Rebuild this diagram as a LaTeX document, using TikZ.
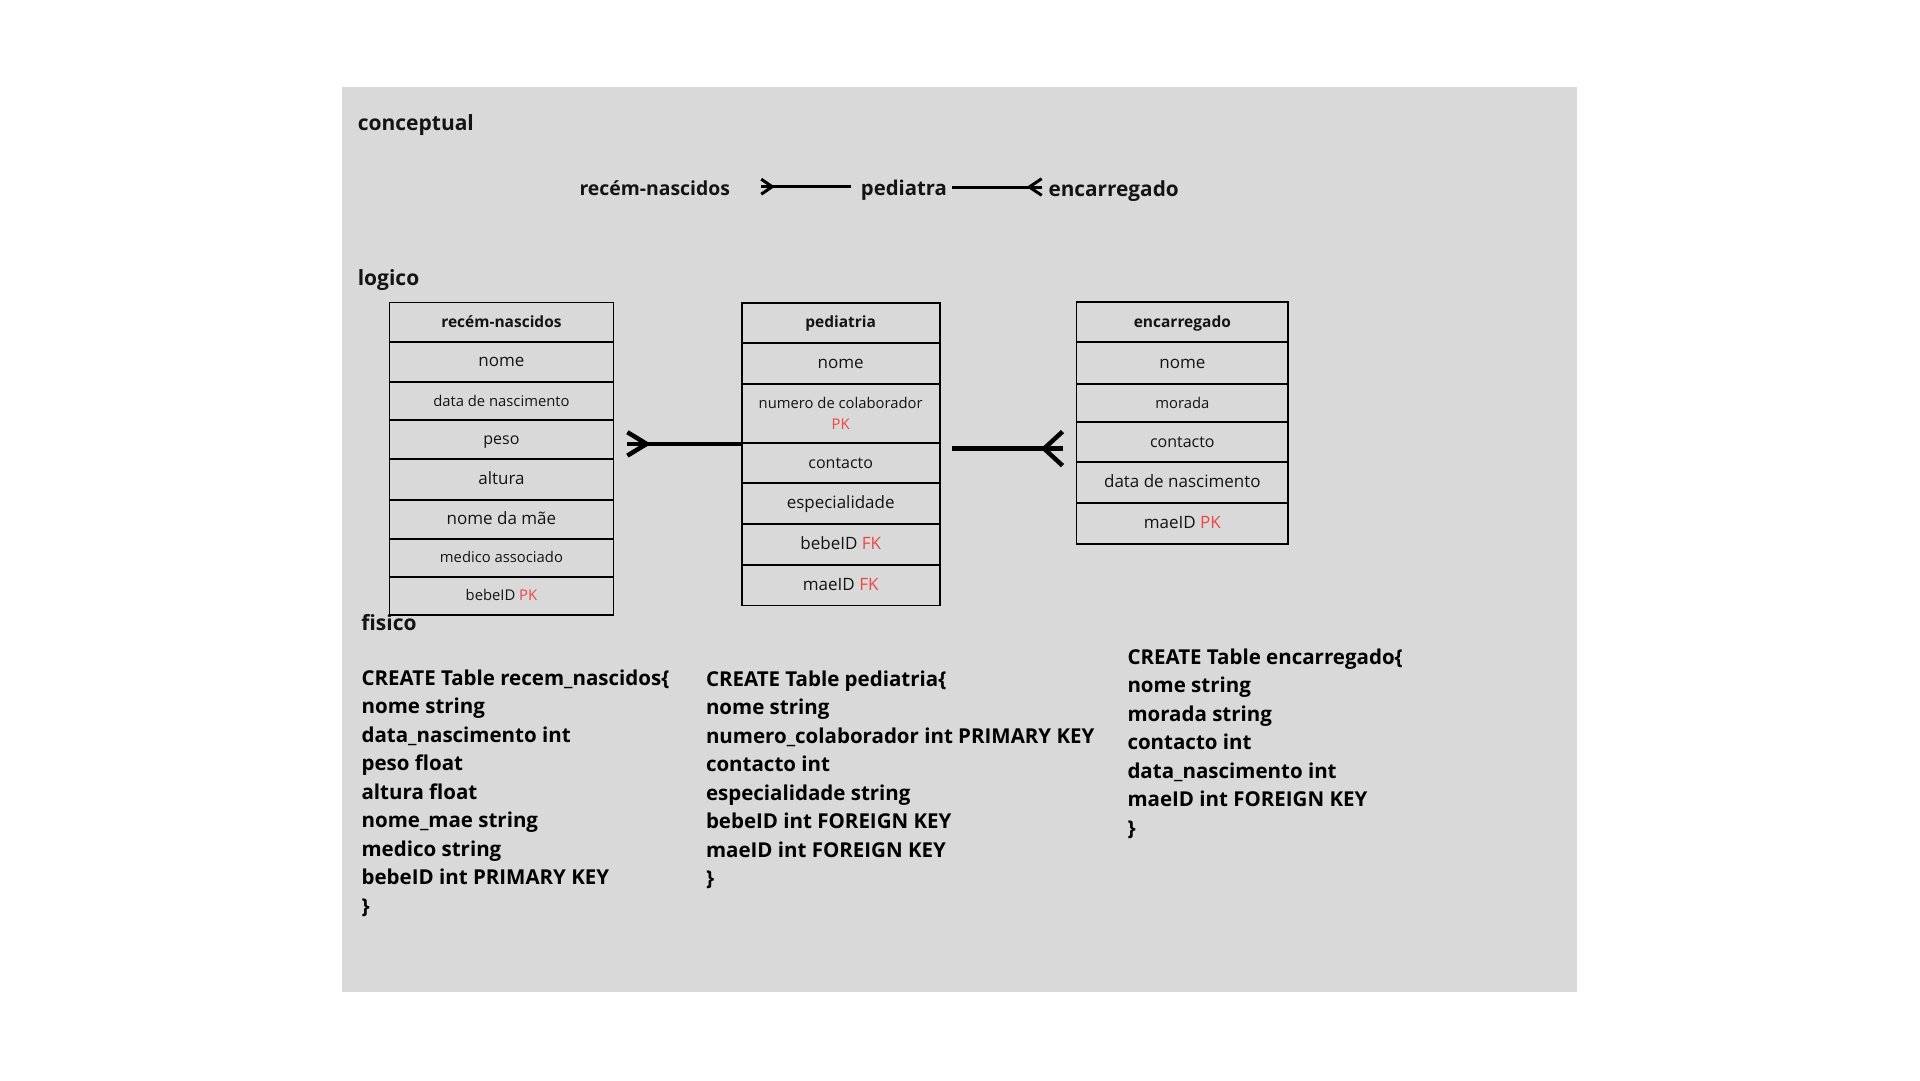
\documentclass[tikz,border=0pt]{standalone}
\usepackage{fontspec}
\setmainfont{Open Sans}
\usetikzlibrary{calc,positioning}
\definecolor{panelFill}{HTML}{D9D9D9}
\definecolor{keyRed}{HTML}{F04545}
\colorlet{inkColor}{black!92}
\newcommand{\KeyPK}{\textcolor{keyRed}{PK}}
\newcommand{\KeyFK}{\textcolor{keyRed}{FK}}
\newcommand{\XRecem}{389.4}
\newcommand{\XRecemR}{613.5}
\newcommand{\XPed}{741.6}
\newcommand{\XPedR}{939.8}
\newcommand{\XEnc}{1076.4}
\newcommand{\XEncR}{1288.3}
\newcommand{\CodeSkip}{28.5}
\newcommand{\PlaceRow}[7]{%
  % #1=name  #2=style  #3=x left  #4=x right  #5=y top  #6=y bottom  #7=text
  \pgfmathsetmacro{\rw}{#4-#3}%
  \pgfmathsetmacro{\rh}{#6-#5}%
  \node[#2, minimum width=\rw pt, minimum height=\rh pt]
    (#1) at ({(#3+#4)/2},{(#5+#6)/2}) {#7};%
}
\newcommand{\CrowFoot}[4]{%
  % #1=style  #2=open end  #3=dx to tip  #4=half spread
  \draw[#1] ($(#2)+(0,-#4)$) -- ($(#2)+(#3,0)$) -- ($(#2)+(0,#4)$);%
}

\begin{document}
\begin{tikzpicture}[
  x=1pt, y=-1pt,
  title/.style     = {inner sep=0pt, anchor=base west, text=inkColor,
                      font=\fontsize{21}{24}\selectfont\bfseries},
  concept/.style   = {inner sep=0pt, anchor=base west, text=inkColor,
                      font=\fontsize{20.3}{24}\selectfont\bfseries},
  row/.style       = {rectangle, draw=black, line width=1.8pt, inner sep=0pt,
                      align=center, text=inkColor},
  line/.style      = {row, text height=14pt, text depth=4pt},
  head/.style      = {line, font=\fontsize{15.5}{20}\selectfont\bfseries},
  cell/.style      = {line, font=\fontsize{17}{20}\selectfont},
  midcell/.style   = {line, font=\fontsize{16}{20}\selectfont},
  smallcell/.style = {line, font=\fontsize{14.8}{20.5}\selectfont},
  twocell/.style   = {row, font=\fontsize{14.8}{20.5}\selectfont},
  code/.style      = {inner sep=0pt, anchor=base west, align=left, text=black,
                      font=\fontsize{20.5}{28.5}\selectfont\bfseries},
  cline/.style     = {line width=3pt},
  tline/.style     = {line width=4.5pt},
]
\useasboundingbox (0,0) rectangle (1920,1080);
\fill[white] (0,0) rectangle (1920,1080);
\fill[panelFill] (341.6,86.9) rectangle (1577.2,991.8);

% ----------------------------------------------------------------
% Section titles
% ----------------------------------------------------------------
\node[title] (tConc) at (357.6,130) {conceptual};
\node[title] (tLog)  at (357.6,285) {logico};
\node[title] (tFis)  at (361.2,630.7) {fisico};

% ----------------------------------------------------------------
% Conceptual model
% ----------------------------------------------------------------
\node[concept, font=\fontsize{19.4}{24}\selectfont\bfseries]
  (cR) at (579.3,195.5) {recém-nascidos};
\node[concept] (cP) at (860.7,195) {pediatra};
\node[concept, font=\fontsize{20.8}{24}\selectfont\bfseries]
  (cE) at (1048.3,196) {encarregado};

\draw[cline, shorten <=31pt, shorten >=10pt]
  ([yshift=8.8pt]cR.base east) -- ([yshift=8.3pt]cP.base west);
\coordinate (cA) at ([xshift=31pt,yshift=8.8pt]cR.base east);
\CrowFoot{cline}{cA}{11}{7.5}

\draw[cline, shorten <=5pt, shorten >=6.6pt]
  ([yshift=8pt]cP.base east) -- ([yshift=9pt]cE.base west);
\coordinate (cB) at ([xshift=-6.6pt,yshift=9pt]cE.base west);
\CrowFoot{cline}{cB}{-12.4}{8.3}

% ----------------------------------------------------------------
% Logical model tables
% ----------------------------------------------------------------
\foreach \yt/\yb/\sty/\txt [count=\i] in {
    302.5/341.6/head/{recém-nascidos},
    341.6/382/cell/{nome},
    382/420/smallcell/{data de nascimento},
    420/459/midcell/{peso},
    459/499.6/cell/{altura},
    499.6/538.8/cell/{nome da mãe},
    538.8/576.7/smallcell/{medico associado},
    576.7/614.7/smallcell/{bebeID \KeyPK}}{
  \PlaceRow{R\i}{\sty}{\XRecem}{\XRecemR}{\yt}{\yb}{\txt}
}

\foreach \yt/\yb/\sty/\txt [count=\i] in {
    302.6/343/head/{pediatria},
    343/384/cell/{nome},
    384/443/twocell/{numero de colaborador\\\KeyPK},
    443/483/midcell/{contacto},
    483/524/cell/{especialidade},
    524/565/cell/{bebeID \KeyFK},
    565/605.5/cell/{maeID \KeyFK}}{
  \PlaceRow{P\i}{\sty}{\XPed}{\XPedR}{\yt}{\yb}{\txt}
}

\foreach \yt/\yb/\sty/\txt [count=\i] in {
    302.3/342.3/head/{encarregado},
    342.3/384/cell/{nome},
    384/422.3/smallcell/{morada},
    422.3/462/midcell/{contacto},
    462/502.7/cell/{data de nascimento},
    502.7/544.3/cell/{maeID \KeyPK}}{
  \PlaceRow{E\i}{\sty}{\XEnc}{\XEncR}{\yt}{\yb}{\txt}
}

% recém-nascidos -> pediatria
\draw[tline, shorten <=13pt] (R4.east |- P3.south west) -- (P3.south west);
\coordinate (lA) at ([xshift=13pt]R4.east |- P3.south west);
\CrowFoot{tline}{lA}{19.2}{11.7}

% pediatria -> encarregado
\coordinate (lB) at ([yshift=-6.5pt]P4.north east);
\draw[tline, shorten <=11.6pt, shorten >=13pt] (lB) -- (lB -| E4.west);
\coordinate (lC) at ([xshift=-13pt]lB -| E4.west);
\CrowFoot{tline}{lC}{-18.4}{17}

% ----------------------------------------------------------------
% Physical model (node base = last line)
% ----------------------------------------------------------------
\node[code] (sR) at (361.4,{685+8*\CodeSkip}) {CREATE Table recem\_nascidos\{\\
  nome string\\
  data\_nascimento int\\
  peso float\\
  altura float\\
  nome\_mae string\\
  medico string\\
  bebeID int PRIMARY KEY\\
  \}};

\node[code] (sP) at (705.8,{686+7*\CodeSkip}) {CREATE Table pediatria\{\\
  nome string\\
  numero\_colaborador int PRIMARY KEY\\
  contacto int\\
  especialidade string\\
  bebeID int FOREIGN KEY\\
  maeID int FOREIGN KEY\\
  \}};

\node[code] (sE) at (1127.3,{664+6*\CodeSkip}) {CREATE Table encarregado\{\\
  nome string\\
  morada string\\
  contacto int\\
  data\_nascimento int\\
  maeID int FOREIGN KEY\\
  \}};

\end{tikzpicture}
\end{document}
